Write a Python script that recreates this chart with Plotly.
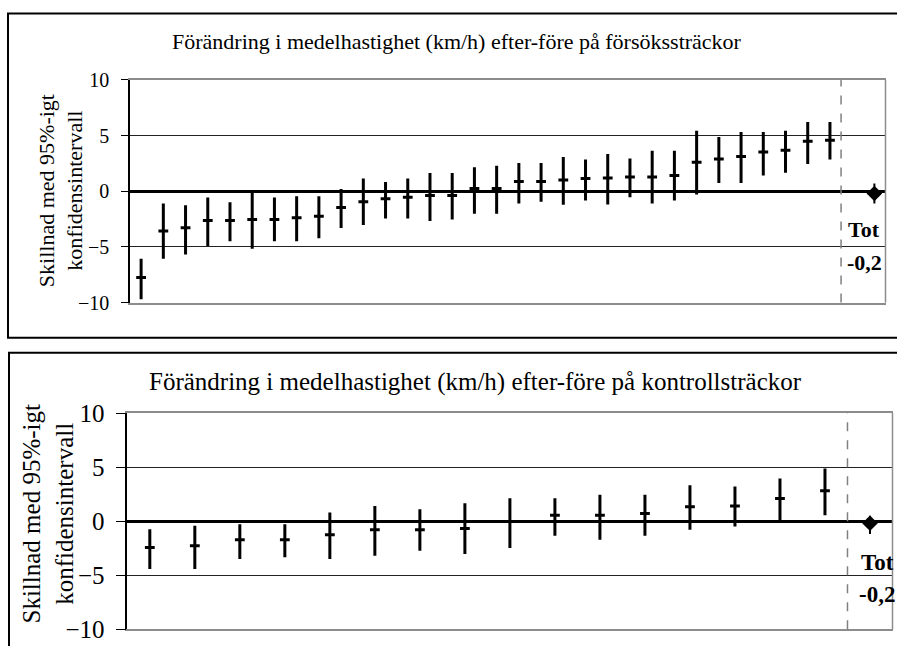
import plotly.graph_objects as go

W, H = 897, 660
CAP_OFF, CAP_SCALE = 12.5, 0.961

# ---------------- data ----------------
test_title = "Förändring i medelhastighet (km/h) efter-före på försökssträckor"
ctrl_title = "Förändring i medelhastighet (km/h) efter-före på kontrollsträckor"
y_title = "Skillnad med 95%-igt<br>konfidensintervall"
y_ticks = [-10, -5, 0, 5, 10]
tot_label = "Tot"
tot_value_label = "-0,2"

test_est = [-7.75, -3.58, -3.28, -2.62, -2.62, -2.53, -2.53, -2.38, -2.24, -1.45,
            -0.95, -0.68, -0.54, -0.38, -0.38, 0.24, 0.24, 0.87, 0.87, 1.02,
            1.14, 1.2, 1.29, 1.29, 1.41, 2.6, 2.9, 3.13, 3.53, 3.67, 4.48, 4.57]
test_low = [-9.7, -6.05, -5.67, -4.92, -4.5, -5.16, -4.5, -4.5, -4.23, -3.3,
            -3.04, -2.44, -2.44, -2.68, -2.53, -2.02, -2.02, -1.1, -0.95, -1.22,
            -0.83, -1.19, -0.54, -1.1, -0.83, -0.3, 0.75, 0.75, 1.41, 1.65, 2.45, 2.84]
test_high = [-6.05, -1.1, -1.25, -0.56, -0.98, -0.15, -0.56, -0.45, -0.45, 0.2,
             1.14, 0.84, 1.14, 1.64, 1.64, 2.15, 2.3, 2.54, 2.54, 3.08,
             2.84, 3.35, 2.93, 3.64, 3.64, 5.43, 4.87, 5.32, 5.32, 5.43, 6.21, 6.21]
test_tot = [-0.2]
test_tot_low = [-1.1]
test_tot_high = [0.7]

ctrl_est = [-2.43, -2.28, -1.72, -1.72, -1.26, -0.8, -0.8, -0.68,
            -0.03, 0.55, 0.55, 0.71, 1.32, 1.41, 2.09, 2.8]
ctrl_low = [-4.43, -4.43, -3.51, -3.35, -3.51, -3.2, -2.74, -3.05,
            -2.49, -1.35, -1.72, -1.35, -0.8, -0.49, -0.12, 0.55]
ctrl_high = [-0.74, -0.43, -0.28, -0.28, 0.8, 1.41, 1.11, 1.66,
             2.12, 2.12, 2.43, 2.43, 3.32, 3.2, 3.94, 4.86]
ctrl_tot = [-0.2]
ctrl_tot_low = [-1.2]
ctrl_tot_high = [0.5]

# category positions (index of each section on the x axis)
test_x = list(range(len(test_est)))
test_tot_x = [len(test_est) + 1]
ctrl_x = list(range(len(ctrl_est)))
ctrl_tot_x = [len(ctrl_est)]

# ---------------- helpers ----------------
def px(x):
    return x / W


def py(y):
    # vertical pixel position -> paper fraction (compensates capture offset/scale)
    yy = (y - CAP_OFF) / CAP_SCALE
    return 1 - yy / H


SERIF = "Liberation Serif, Times New Roman, serif"

fig = go.Figure()


def add_series(xs, est, low, high, xa, ya):
    fig.add_trace(go.Scatter(
        x=xs, y=est, xaxis=xa, yaxis=ya, mode="markers",
        marker=dict(symbol="line-ew", size=7, color="black",
                    line=dict(color="black", width=3)),
        error_y=dict(type="data", symmetric=False,
                     array=[h - e for h, e in zip(high, est)],
                     arrayminus=[e - l for e, l in zip(est, low)],
                     width=0, thickness=3, color="black"),
        showlegend=False, hoverinfo="skip"))


def add_tot(xs, est, low, high, xa, ya):
    fig.add_trace(go.Scatter(
        x=xs, y=est, xaxis=xa, yaxis=ya, mode="markers",
        marker=dict(symbol="diamond", size=12, color="black"),
        error_y=dict(type="data", symmetric=False,
                     array=[h - e for h, e in zip(high, est)],
                     arrayminus=[e - l for e, l in zip(est, low)],
                     width=0, thickness=2, color="black"),
        showlegend=False, hoverinfo="skip"))


add_series(test_x, test_est, test_low, test_high, "x", "y")
add_tot(test_tot_x, test_tot, test_tot_low, test_tot_high, "x", "y")
add_series(ctrl_x, ctrl_est, ctrl_low, ctrl_high, "x2", "y2")
add_tot(ctrl_tot_x, ctrl_tot, ctrl_tot_low, ctrl_tot_high, "x2", "y2")

xcommon = dict(showticklabels=False, ticks="", showgrid=False, zeroline=False,
               showline=True, linecolor="#8c8c8c", linewidth=1.5, mirror=True)


def ycommon(fs, tl, standoff):
    return dict(range=[-10, 10], tickvals=y_ticks, ticks="outside", ticklen=tl,
                tickcolor="black", tickwidth=1.2,
                showgrid=True, gridcolor="#222222", gridwidth=1,
                zeroline=True, zerolinecolor="black", zerolinewidth=3,
                showline=True, linecolor="black", linewidth=1.5,
                tickfont=dict(family=SERIF, size=fs, color="black"),
                ticklabelstandoff=standoff)


fig.update_layout(
    width=W, height=H, margin=dict(l=0, r=0, t=0, b=0),
    paper_bgcolor="white", plot_bgcolor="white",
    xaxis=dict(domain=[px(130), px(885.5)], range=[-0.5, len(test_est) + 1.5],
               anchor="y", **xcommon),
    yaxis=dict(domain=[py(302.7), py(79.5)], anchor="x", **ycommon(20, 7, 8)),
    xaxis2=dict(domain=[px(127.3), px(892.5)], range=[-0.5, len(ctrl_est) + 0.5],
                anchor="y2", **xcommon),
    yaxis2=dict(domain=[max(py(630), 0), py(413.3)], anchor="x2", **ycommon(25, 10, 6)),
)

shapes = [
    # outer frames
    dict(type="rect", xref="paper", yref="paper", x0=px(8), x1=1.05,
         y0=py(338), y1=py(13), line=dict(color="black", width=2), layer="below"),
    dict(type="rect", xref="paper", yref="paper", x0=px(9), x1=1.05,
         y0=-0.1, y1=py(353), line=dict(color="black", width=2), layer="below"),
    # right borders of plot areas
    dict(type="line", xref="x domain", yref="y domain", x0=1, x1=1, y0=0, y1=1,
         line=dict(color="#8c8c8c", width=1.5)),
    dict(type="line", xref="x2 domain", yref="y2 domain", x0=1, x1=1, y0=0, y1=1,
         line=dict(color="#8c8c8c", width=1.5)),
    # dashed separators before the totals
    dict(type="line", xref="x", yref="y domain", x0=len(test_est) - 0.5,
         x1=len(test_est) - 0.5, y0=0, y1=1,
         line=dict(color="#808080", width=1.5, dash="dash")),
    dict(type="line", xref="x2", yref="y2 domain", x0=len(ctrl_est) - 0.5,
         x1=len(ctrl_est) - 0.5, y0=0, y1=1,
         line=dict(color="#808080", width=1.5, dash="dash")),
]
fig.update_layout(shapes=shapes)

annotations = [
    dict(text=test_title, xref="paper", yref="paper", x=px(457), y=py(41),
         showarrow=False, xanchor="center", yanchor="middle",
         font=dict(family=SERIF, size=22, color="black")),
    dict(text=ctrl_title, xref="paper", yref="paper", x=px(475), y=py(382),
         showarrow=False, xanchor="center", yanchor="middle",
         font=dict(family=SERIF, size=25, color="black")),
    dict(text=y_title, xref="paper", yref="paper", x=px(61), y=py(191),
         showarrow=False, xanchor="center", yanchor="middle", textangle=-90,
         font=dict(family=SERIF, size=22, color="black")),
    dict(text=y_title, xref="paper", yref="paper", x=px(48), y=py(515),
         showarrow=False, xanchor="center", yanchor="middle", textangle=-90,
         font=dict(family=SERIF, size=25, color="black")),
    dict(text="<b>" + tot_label + "</b>", xref="paper", yref="paper", x=px(864), y=py(229),
         showarrow=False, xanchor="center", yanchor="middle",
         font=dict(family=SERIF, size=22, color="black")),
    dict(text="<b>" + tot_value_label + "</b>", xref="paper", yref="paper", x=px(864), y=py(262.5),
         showarrow=False, xanchor="center", yanchor="middle",
         font=dict(family=SERIF, size=22, color="black")),
    dict(text="<b>" + tot_label + "</b>", xref="paper", yref="paper", x=px(877), y=py(563),
         showarrow=False, xanchor="center", yanchor="middle",
         font=dict(family=SERIF, size=23, color="black")),
    dict(text="<b>" + tot_value_label + "</b>", xref="paper", yref="paper", x=px(877), y=py(595),
         showarrow=False, xanchor="center", yanchor="middle",
         font=dict(family=SERIF, size=23, color="black")),
]
fig.update_layout(annotations=annotations)

# pin the graph to the top-left corner of the page (no body margin / scrolling)
pin_js = (
    "var gd=document.getElementById('{plot_id}');"
    "document.documentElement.style.margin='0';document.documentElement.style.padding='0';"
    "document.documentElement.style.overflow='hidden';"
    "document.body.style.margin='0';document.body.style.padding='0';"
    "document.body.style.overflow='hidden';"
    "gd.style.position='fixed';gd.style.top='0px';gd.style.left='0px';"
)

fig.write_html("out.html", post_script=pin_js, config={"displayModeBar": False})
